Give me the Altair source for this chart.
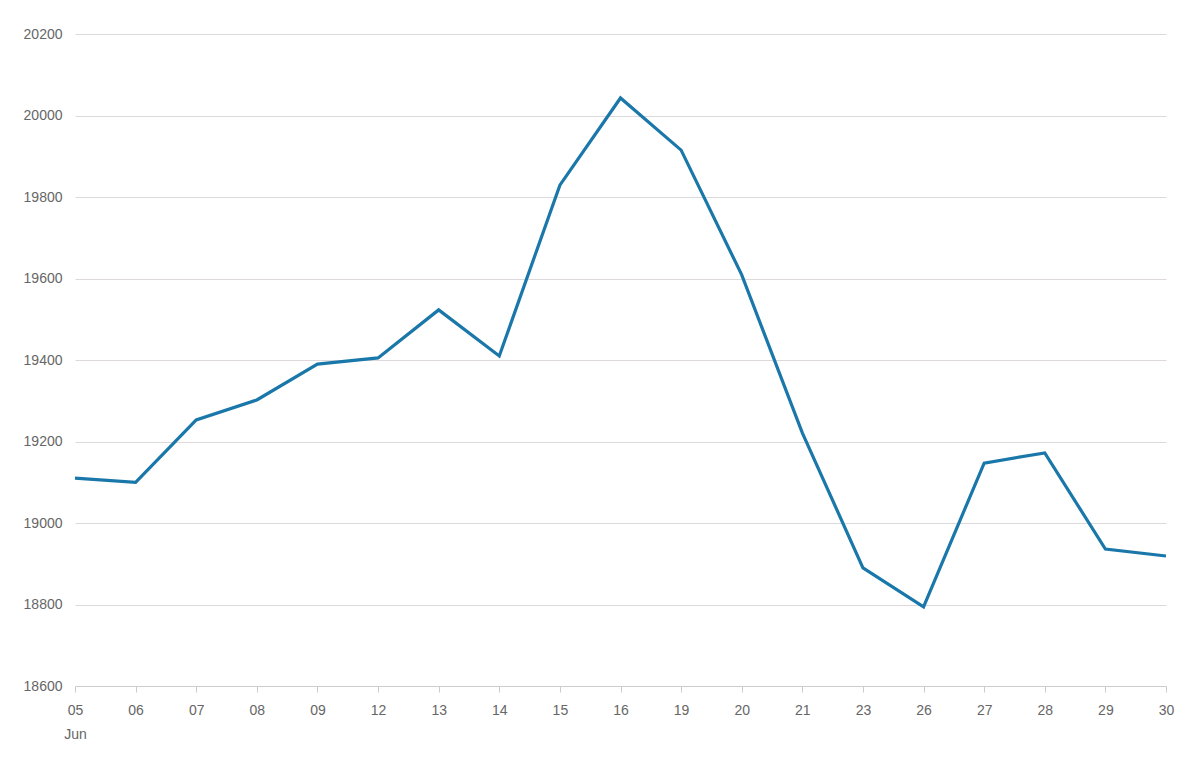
import altair as alt
import pandas as pd

days = ["05", "06", "07", "08", "09", "12", "13", "14", "15", "16",
        "19", "20", "21", "23", "26", "27", "28", "29", "30"]
values = [19110, 19100, 19253, 19302, 19390, 19405, 19523, 19410, 19829, 20043,
          19915, 19609, 19221, 18890, 18794, 19147, 19172, 18936, 18919]
y_ticks = [18600, 18800, 19000, 19200, 19400, 19600, 19800, 20000, 20200]

df = pd.DataFrame({"day": days, "value": values})

chart = alt.Chart(df).mark_line(color="#1a77a9", strokeWidth=3.2).encode(
    x=alt.X("day:O", sort=days,
            scale=alt.Scale(type="point", padding=0),
            axis=alt.Axis(title=None, labelAngle=0, grid=False,
                          domainColor="#cccccc", tickColor="#cccccc", tickSize=6,
                          labelColor="#666666", labelFontSize=14, labelFont="Liberation Sans",
                          labelPadding=11, labelLineHeight=24,
                          labelExpr="datum.value == '05' ? ['05', 'Jun'] : datum.value")),
    y=alt.Y("value:Q",
            scale=alt.Scale(domain=[18600, 20200], nice=False, zero=False),
            axis=alt.Axis(title=None, values=y_ticks, format="d",
                          domain=False, ticks=False, gridColor="#dcd8dc",
                          labelColor="#666666", labelFontSize=14, labelFont="Liberation Sans",
                          labelPadding=13)),
).properties(
    width=1091, height=652,
    padding={"left": 67, "top": 26, "right": 25, "bottom": 60},
    autosize=alt.AutoSizeParams(type="none"),
).configure_view(stroke=None)

chart.save("out.html", embed_options={"renderer": "svg", "actions": False})
